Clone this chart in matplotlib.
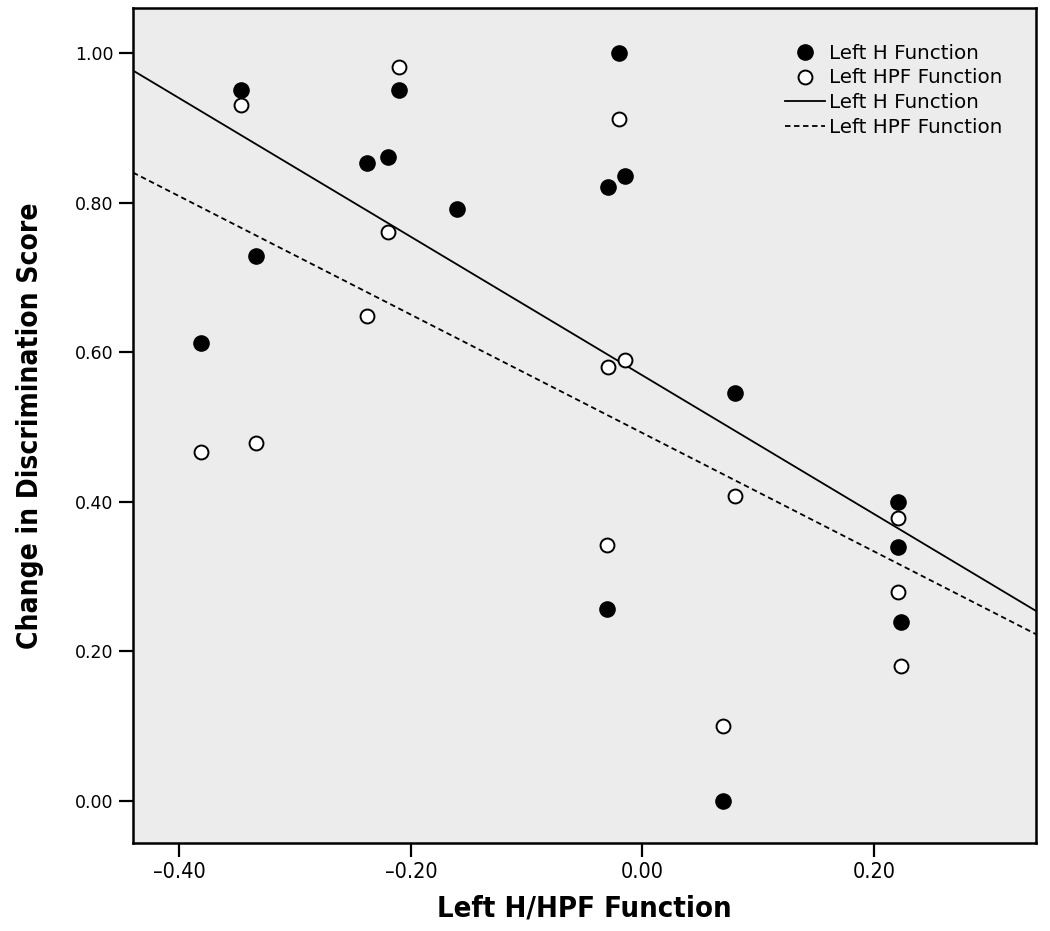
import matplotlib

matplotlib.use("Agg")
import matplotlib.pyplot as plt
import numpy as np

# Left H function (filled markers)
h_x = [-0.347, -0.210, -0.238, -0.220, -0.334, -0.381, -0.160, -0.020, -0.015,
       -0.030, 0.080, -0.031, 0.070, 0.221, 0.221, 0.223]
h_y = [0.951, 0.951, 0.853, 0.861, 0.728, 0.612, 0.791, 1.000, 0.836,
       0.821, 0.546, 0.257, 0.000, 0.400, 0.339, 0.240]

# Left HPF function (open markers)
hpf_x = [-0.347, -0.210, -0.220, -0.238, -0.381, -0.334, -0.020, -0.030, -0.015,
         0.080, -0.031, 0.070, 0.221, 0.221, 0.223]
hpf_y = [0.931, 0.981, 0.761, 0.648, 0.467, 0.479, 0.911, 0.580, 0.589,
         0.408, 0.342, 0.100, 0.379, 0.279, 0.180]

# fit lines (slope, intercept) as drawn
h_fit = (-0.926, 0.569)
hpf_fit = (-0.791, 0.492)

XLIM = (-0.44, 0.34)
YLIM = (-0.056, 1.06)
x_ticks = [-0.40, -0.20, 0.00, 0.20]
y_ticks = [0.00, 0.20, 0.40, 0.60, 0.80, 1.00]

fig = plt.figure(figsize=(10.5, 9.31), dpi=100)
ax = fig.add_axes([0.1267, 0.0945, 0.86, 0.8969])
ax.set_facecolor("#ececec")

xs = np.array(XLIM)
ax.plot(xs, h_fit[0] * xs + h_fit[1], color="black", lw=1.3, zorder=2)
ax.plot(xs, hpf_fit[0] * xs + hpf_fit[1], color="black", lw=1.3,
        linestyle=(0, (3, 2)), zorder=2)
ax.scatter(h_x, h_y, s=120, color="black", zorder=3)
ax.scatter(hpf_x, hpf_y, s=100, facecolor="white", edgecolor="black",
           linewidth=1.4, zorder=4)

ax.set_xlim(*XLIM)
ax.set_ylim(*YLIM)
ax.set_xticks(x_ticks)
ax.set_xticklabels([f"{v:.2f}".replace("-", "\u2013") for v in x_ticks],
                   fontsize=15.5, fontstretch="condensed")
ax.set_yticks(y_ticks)
ax.set_yticklabels([f"{v:.2f}" for v in y_ticks], fontsize=12.5)
ax.tick_params(direction="out", length=10, width=1.6, pad=4)
for sp in ax.spines.values():
    sp.set_linewidth(1.8)

ax.set_xlabel("Left H/HPF Function", fontsize=21, fontweight="bold",
              fontstretch="condensed", labelpad=9)
ax.set_ylabel("Change in Discrimination Score", fontsize=20.2, fontweight="bold",
              fontstretch="condensed", labelpad=22)

handles = [
    plt.Line2D([], [], marker="o", ls="none", color="black", ms=11),
    plt.Line2D([], [], marker="o", ls="none", mfc="white", mec="black", ms=10, mew=1.4),
    plt.Line2D([], [], color="black", lw=1.3),
    plt.Line2D([], [], color="black", lw=1.3, linestyle=(0, (3, 2))),
]
labels = ["Left H Function", "Left HPF Function", "Left H Function", "Left HPF Function"]
ax.legend(handles, labels, loc="upper left", bbox_to_anchor=(0.722, 0.957),
          frameon=False, fontsize=14.3, handlelength=2.0, handletextpad=0.2,
          labelspacing=0.28, borderpad=0, borderaxespad=0)

fig.savefig("out.png", dpi=100)
